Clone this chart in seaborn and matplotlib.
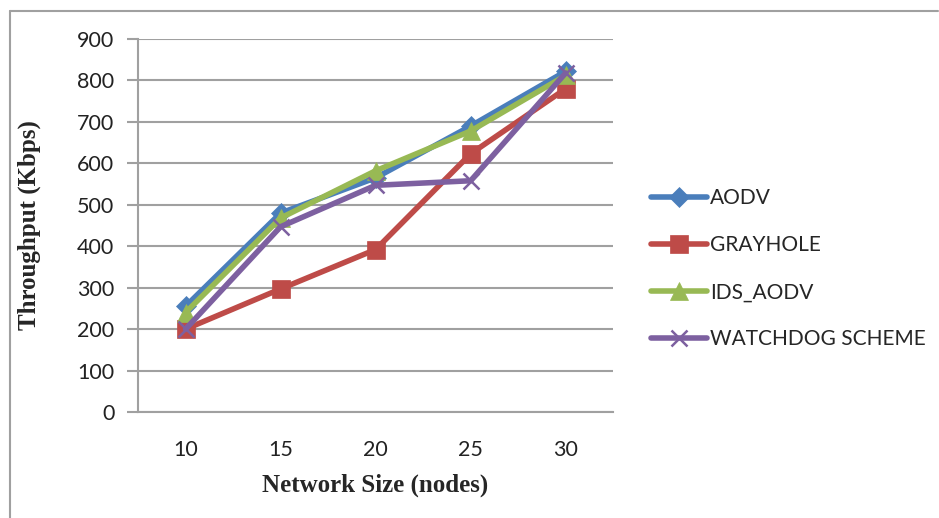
import matplotlib
matplotlib.use("Agg")
import matplotlib.pyplot as plt
from matplotlib.lines import Line2D
import seaborn as sns
import pandas as pd

# data
network_size = ["10", "15", "20", "25", "30"]
aodv = [255, 480, 565, 690, 822]
grayhole = [200, 297, 392, 623, 780]
ids_aodv = [240, 468, 582, 678, 812]
watchdog = [200, 447, 547, 558, 818]

series = {
    "AODV": aodv,
    "GRAYHOLE": grayhole,
    "IDS_AODV": ids_aodv,
    "WATCHDOG SCHEME": watchdog,
}

rows = []
for name, vals in series.items():
    for i, v in enumerate(vals):
        rows.append({"pos": i, "size": network_size[i], "series": name, "throughput": v})
df = pd.DataFrame(rows)

colors = {"AODV": "#4A7EBB", "GRAYHOLE": "#BE4B48",
          "IDS_AODV": "#98B954", "WATCHDOG SCHEME": "#7D60A0"}
markers = {"AODV": "D", "GRAYHOLE": "s", "IDS_AODV": "^", "WATCHDOG SCHEME": "x"}
msizes = {"AODV": 10, "GRAYHOLE": 13, "IDS_AODV": 13, "WATCHDOG SCHEME": 12}

sns.set_style("white")
plt.rcParams["font.family"] = ["Lato", "DejaVu Sans"]

fig = plt.figure(figsize=(9.39, 5.18), dpi=100)
ax = fig.add_axes([0.147, 0.2046, 0.506, 0.7201])

for name in series:
    sub = df[df["series"] == name]
    sns.lineplot(data=sub, x="pos", y="throughput", ax=ax, color=colors[name],
                 marker=markers[name], markersize=msizes[name], linewidth=4,
                 markeredgewidth=1.8 if markers[name] == "x" else 0.5,
                 markeredgecolor=colors[name], label=name)

ax.set_xlim(-0.5, 4.5)
ax.set_ylim(0, 900)
ax.set_yticks(range(0, 901, 100))
ax.set_xticks(range(len(network_size)))
ax.set_xticklabels(network_size)
ax.set_xticks([i - 0.5 for i in range(len(network_size) + 1)], minor=True)
ax.tick_params(axis="x", which="major", length=0, pad=20, labelsize=15.5, labelcolor="#222222")
ax.tick_params(axis="x", which="minor", length=7, width=1.5, color="#A0A0A0", direction="out")
ax.tick_params(axis="y", length=8, width=1.5, color="#A0A0A0", pad=9, labelsize=15.5,
               labelcolor="#222222", left=True)

ax.grid(axis="y", color="#A0A0A0", linewidth=1.5)
ax.set_axisbelow(True)
for s in ["top", "right"]:
    ax.spines[s].set_visible(False)
for s in ["left", "bottom"]:
    ax.spines[s].set_color("#A0A0A0")
    ax.spines[s].set_linewidth(1.5)

ax.set_xlabel("Network Size (nodes)", family="Liberation Serif", fontweight="bold",
              fontsize=18, labelpad=10)
ax.set_ylabel("Throughput (Kbps)", family="Liberation Serif", fontweight="bold",
              fontsize=18, labelpad=26)

ax.legend(loc="center left", bbox_to_anchor=(0.684, 0.481), bbox_transform=fig.transFigure,
          frameon=False, fontsize=15, handlelength=2.7, handletextpad=0.15,
          labelspacing=1.3, borderaxespad=0)

# outer frame (top and left only visible in the reference)
fig.add_artist(Line2D([0.0105, 0.999], [0.979, 0.979], transform=fig.transFigure,
                      color="#A0A0A0", linewidth=1.5))
fig.add_artist(Line2D([0.0105, 0.0105], [0.0, 0.979], transform=fig.transFigure,
                      color="#A0A0A0", linewidth=1.5))

fig.savefig("out.png", dpi=100)
